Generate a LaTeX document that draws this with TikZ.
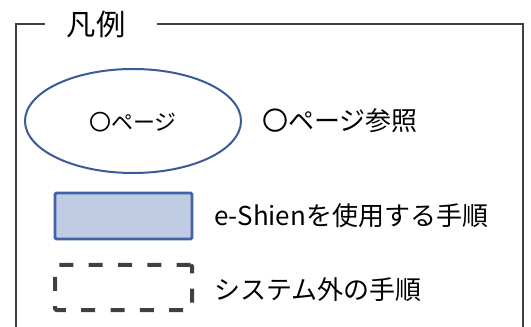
\documentclass[tikz,border=0pt]{standalone}
\usepackage{fontspec}
\usetikzlibrary{shapes.geometric}
\setmainfont{Noto Sans CJK JP}
\definecolor{ellblue}{HTML}{3A5A9A}
\definecolor{sysborder}{HTML}{4162A5}
\definecolor{sysfill}{HTML}{C0CCE4}
\begin{document}
\begin{tikzpicture}[x=0.75pt,y=-0.75pt,
  frameline/.style={draw=black!75,line width=2.2pt},
  label/.style={anchor=west,inner sep=0pt,font=\fontsize{19.5}{22}\selectfont},
  sysbox/.style={draw=sysborder,fill=sysfill,line width=2.2pt,rounded corners=1pt},
  extbox/.style={draw=black!75,line width=3pt,dash pattern=on 10.5pt off 11.5pt,rounded corners=1pt}]
\useasboundingbox (0,0) rectangle (531,327);
\coordinate (tl) at (16,24);
\coordinate (bl) at (16,327);
\coordinate (g1) at (45,24);
\coordinate (g2) at (157,24);
\coordinate (tr) at (523,24);
\coordinate (br) at (523,327);
\draw[frameline] (g1) -- (tl) -- (bl);
\draw[frameline] (g2) -- (tr) -- (br);
\node[inner sep=0pt,font=\fontsize{22}{24}\selectfont] (title) at (96,24) {凡例};
\node[draw=ellblue,line width=1.5pt,ellipse,minimum width=162pt,minimum height=78pt,inner sep=0pt] (ell) at (133,121) {};
\node[inner sep=0pt,font=\fontsize{16.5}{18}\selectfont] (elltext) at (133,122) {〇ページ};
\node[label] (l1) at (262,121) {〇ページ参照};
\node[sysbox,minimum width=102.75pt,minimum height=34.5pt,inner sep=0pt] (sys) at (123.5,216) {};
\node[label] (l2) at (214,216) {e-Shienを使用する手順};
\node[extbox,minimum width=102.75pt,minimum height=33.75pt,inner sep=0pt] (ext) at (123.5,287.5) {};
\node[label] (l3) at (214,290) {システム外の手順};
\end{tikzpicture}
\end{document}
